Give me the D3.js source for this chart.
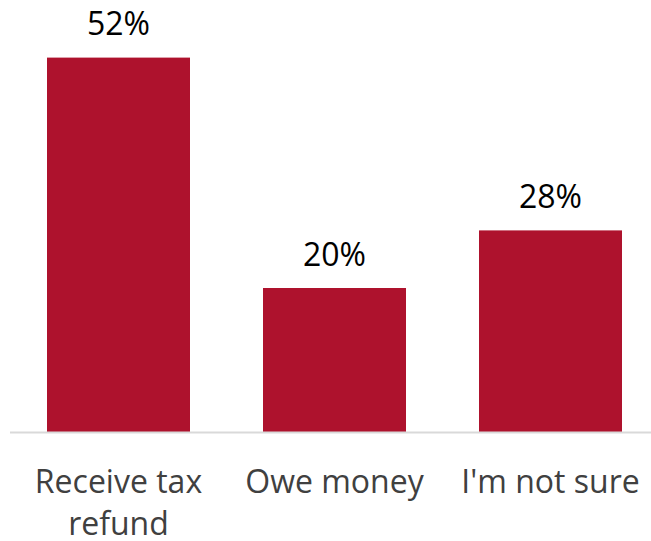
<!DOCTYPE html>
<html>
<head>
<meta charset="utf-8">
<script src="https://cdn.jsdelivr.net/npm/d3@7"></script>
<style>
  html, body { margin: 0; padding: 0; background: #fff; }
  svg { display: block; }
</style>
</head>
<body>
<svg id="chart" width="651" height="541"></svg>
<script>
// Expected outcome of this year's tax filing
const categories = [["Receive tax", "refund"], ["Owe money"], ["I'm not sure"]];
const values = [52, 20, 28];

const width = 651, height = 541;
const svg = d3.select("#chart");
const font = "'Open Sans', sans-serif";

const x = d3.scaleBand()
  .domain(d3.range(values.length))
  .range([10.5, 658.5])
  .paddingInner(0.338)
  .paddingOuter(0.169);

const y = d3.scaleLinear().domain([0, 60]).range([432, 0]);

// bars
svg.selectAll("rect.bar")
  .data(values)
  .join("rect")
  .attr("class", "bar")
  .attr("x", (d, i) => x(i))
  .attr("y", d => y(d))
  .attr("width", x.bandwidth())
  .attr("height", d => y(0) - y(d))
  .attr("fill", "#ae122d");

// baseline
svg.append("line")
  .attr("x1", 10).attr("x2", width)
  .attr("y1", y(0) + 0.5).attr("y2", y(0) + 0.5)
  .attr("stroke", "#d9d9d9").attr("stroke-width", 2);

// value labels
svg.selectAll("text.value")
  .data(values)
  .join("text")
  .attr("class", "value")
  .attr("x", (d, i) => x(i) + x.bandwidth() / 2)
  .attr("y", d => y(d) - 22.5)
  .attr("text-anchor", "middle")
  .attr("font-family", font)
  .attr("font-size", 32)
  .attr("fill", "#000")
  .text(d => d + "%");

// category labels, wrapped onto lines
const cat = svg.selectAll("text.cat")
  .data(categories)
  .join("text")
  .attr("class", "cat")
  .attr("x", (d, i) => x(i) + x.bandwidth() / 2)
  .attr("y", 493)
  .attr("text-anchor", "middle")
  .attr("font-family", font)
  .attr("font-size", 32)
  .attr("fill", "#404040");

cat.selectAll("tspan")
  .data((d, i) => d.map(t => ({ t, i })))
  .join("tspan")
  .attr("x", d => x(d.i) + x.bandwidth() / 2)
  .attr("dy", (d, j) => j === 0 ? 0 : 42)
  .text(d => d.t);
</script>
</body>
</html>
